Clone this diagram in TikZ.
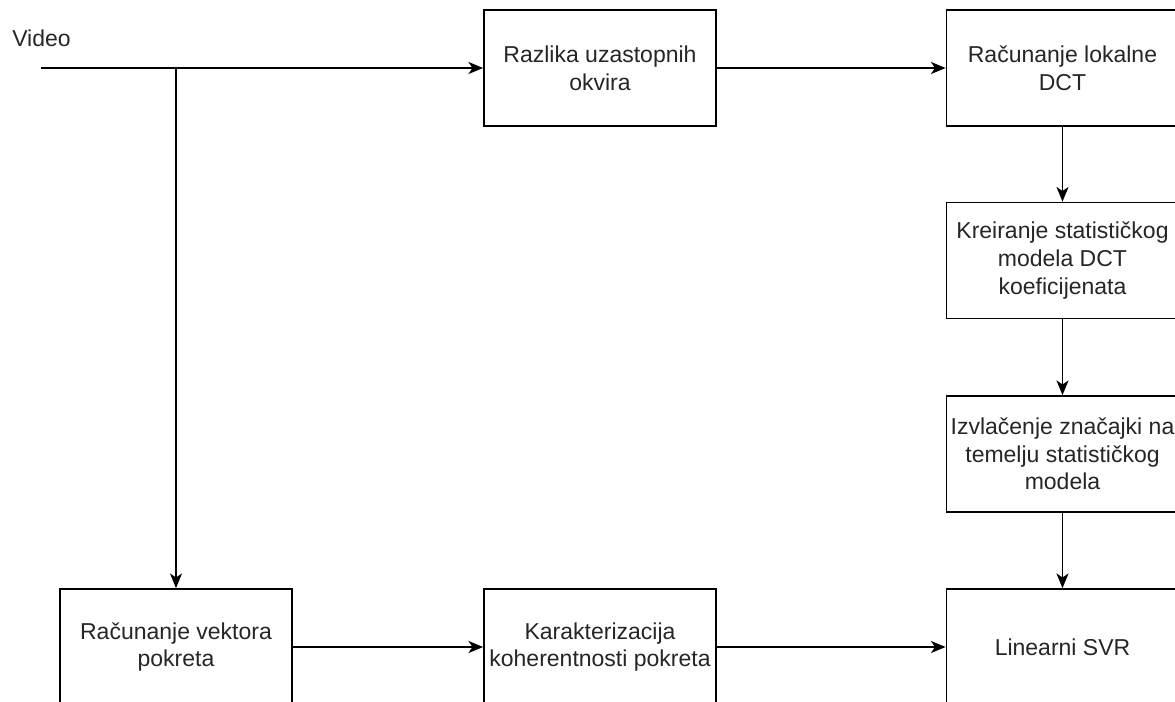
\documentclass[tikz,border=0pt]{standalone}
\usepackage{fontspec}
\setmainfont{Liberation Sans}
\usetikzlibrary{arrows.meta}
\definecolor{txt}{HTML}{262626}
\tikzset{
  box/.style={draw=black, line width=1.3pt, fill=white, minimum width=174pt, minimum height=87pt,
    inner sep=0pt, align=center, text=txt, font=\fontsize{17.25}{20.7}\selectfont},
  conn/.style={line width=1.3pt, draw=black, -{Stealth[length=11pt,width=9pt,inset=3pt]}},
  plain/.style={line width=1.3pt, draw=black}
}
\begin{document}
\begin{tikzpicture}[x=0.75pt,y=-0.75pt]
\useasboundingbox (0,0) rectangle (1175,701);
\node[anchor=west, inner sep=0pt, text=txt, font=\fontsize{17.25}{20.7}\selectfont] (video) at (12,38) {Video};
\node[box] (raz) at (600,68) {Razlika uzastopnih\\okvira};
\node[box] (dct) at (1062.5,68) {Računanje lokalne\\DCT};
\node[box] (kre) at (1062.5,260.5) {Kreiranje statističkog\\modela DCT\\koeficijenata};
\node[box] (izv) at (1062.5,454) {Izvlačenje značajki na\\temelju statističkog\\modela};
\node[box] (vek) at (176,647) {Računanje vektora\\pokreta};
\node[box] (kar) at (600,647) {Karakterizacija\\koherentnosti pokreta};
\node[box] (svr) at (1062.5,647) {Linearni SVR};
\coordinate (in) at (41,68);
\coordinate (br) at (176,68);
\draw[conn] (in) -- (raz.west);
\draw[conn] (br) -- (vek.north);
\draw[conn] (raz.east) -- (dct.west);
\draw[conn] (dct.south) -- (kre.north);
\draw[conn] (kre.south) -- (izv.north);
\draw[conn] (izv.south) -- (svr.north);
\draw[conn] (vek.east) -- (kar.west);
\draw[conn] (kar.east) -- (svr.west);
\end{tikzpicture}
\end{document}
